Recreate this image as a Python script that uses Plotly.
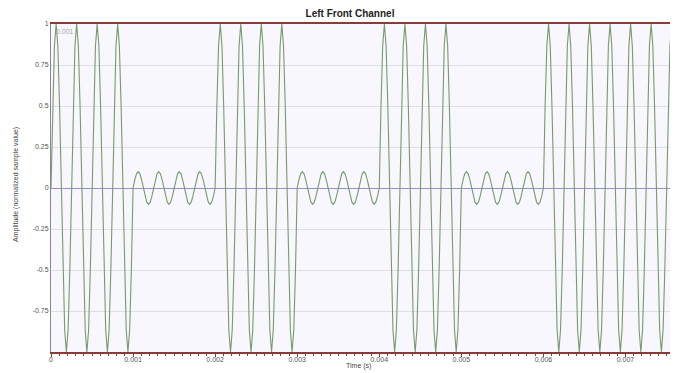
import plotly.graph_objects as go

# ---- data ----
sample_rate = 48000            # samples per second
cycle_shape = [0.0, 0.5, 0.866, 1.0, 0.866, 0.5, 0.0, -0.5, -0.866, -1.0, -0.866, -0.5]
cycle_amplitudes = [1, 1, 1, 1, 0.1, 0.1, 0.1, 0.1,
                    1, 1, 1, 1, 0.1, 0.1, 0.1, 0.1,
                    1, 1, 1, 1, 0.1, 0.1, 0.1, 0.1,
                    1, 1, 1, 1, 1, 1, 1, 1]
x_tick_vals = [0, 0.001, 0.002, 0.003, 0.004, 0.005, 0.006, 0.007]
x_tick_text = ["0", "0.001", "0.002", "0.003", "0.004", "0.005", "0.006", "0.007"]
y_tick_vals = [1, 0.75, 0.5, 0.25, 0, -0.25, -0.5, -0.75]
y_tick_text = ["1", "0.75", "0.5", "0.25", "0", "-0.25", "-0.5", "-0.75"]

samples = []
for amp in cycle_amplitudes:
    samples.extend(amp * v for v in cycle_shape)
times = [i / sample_rate for i in range(len(samples))]

fig = go.Figure()
fig.add_trace(go.Scatter(x=times, y=samples, mode="lines",
                         line=dict(color="#7a9a6a", width=1.1),
                         hoverinfo="skip", showlegend=False))

# page body has an 8px margin, figure sized to compensate
W, H = 670, 365
L, R, T, B = 43, 0, 16, 21
pw, ph = W - L - R, H - T - B

font = "Liberation Sans, Arial, sans-serif"
fig.update_layout(
    width=W, height=H,
    margin=dict(l=L, r=R, t=T, b=B, autoexpand=False),
    paper_bgcolor="white",
    plot_bgcolor="#f7f7fd",
    font=dict(family=font, size=8, color="#444"),
    title=dict(text="<b>Left Front Channel</b>", x=342 / W, xanchor="center",
               y=1 - 5.5 / H, yanchor="middle",
               font=dict(family=font, size=10, color="#222")),
    xaxis=dict(range=[0, 0.00764], tickvals=x_tick_vals, ticktext=x_tick_text,
               showgrid=False, zeroline=False,
               showline=True, linecolor="#8b3a3a", linewidth=1.5, mirror=True,
               ticks="outside", ticklen=3, tickcolor="#8b3a3a",
               minor=dict(dtick=0.0001, ticks="outside", ticklen=2, tickcolor="#8b3a3a"),
               tickfont=dict(size=7, color="#555"), ticklabelstandoff=-3,
               automargin=False),
    yaxis=dict(range=[-1, 1], tickvals=y_tick_vals, ticktext=y_tick_text,
               showgrid=True, gridcolor="#dedee6", gridwidth=1,
               zeroline=True, zerolinecolor="#8f92c8", zerolinewidth=1,
               showline=True, linecolor="#888", linewidth=1,
               ticks="", tickfont=dict(size=7, color="#555"), automargin=False),
    annotations=[
        dict(text="0.001", x=0.00004, y=0.985, xref="x", yref="y",
             xanchor="left", yanchor="top", showarrow=False,
             font=dict(size=7, color="#aaa")),
        dict(text="Time (s)", x=(350 - L) / pw, y=-(358 - (H - B)) / ph,
             xref="paper", yref="paper", xanchor="center", yanchor="middle",
             showarrow=False, font=dict(size=7, color="#444")),
        dict(text="Amplitude (normalized sample value)", textangle=-90,
             x=-35 / pw, y=(H - B - 177) / ph, xref="paper", yref="paper",
             xanchor="center", yanchor="middle", showarrow=False,
             font=dict(size=7, color="#444")),
    ],
)

fig.write_html("out.html")
